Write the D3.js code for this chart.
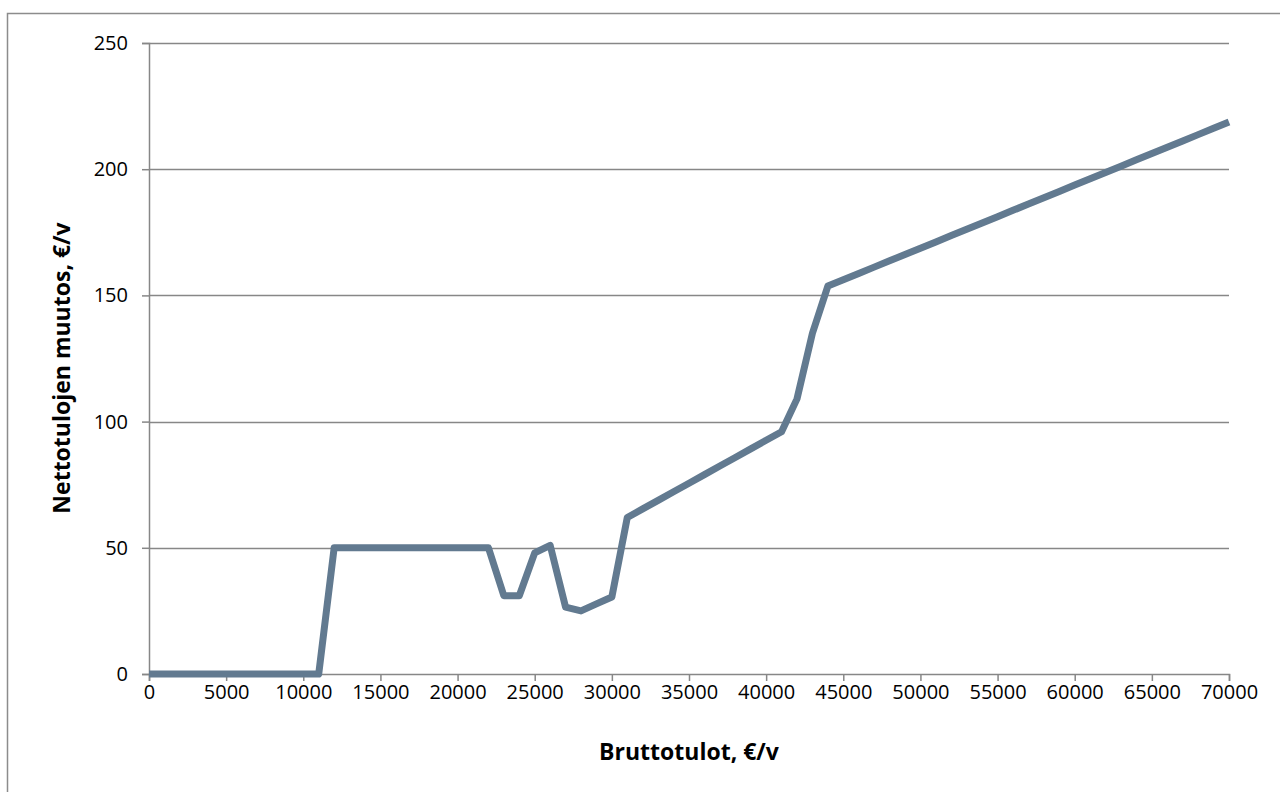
<!DOCTYPE html>
<html><head><meta charset="utf-8">
<script src="https://cdn.jsdelivr.net/npm/d3@7"></script>
<style>body{margin:0;background:#fff}svg{display:block}</style>
</head><body>
<svg id="c" width="1280" height="792"></svg>
<script>
const grossIncome = [0,1000,2000,3000,4000,5000,6000,7000,8000,9000,10000,11000,12000,13000,14000,15000,16000,17000,18000,19000,20000,21000,22000,23000,24000,25000,26000,27000,28000,29000,30000,31000,32000,33000,34000,35000,36000,37000,38000,39000,40000,41000,42000,43000,44000,45000,46000,47000,48000,49000,50000,51000,52000,53000,54000,55000,56000,57000,58000,59000,60000,61000,62000,63000,64000,65000,66000,67000,68000,69000,70000];
const netChange = [0,0,0,0,0,0,0,0,0,0,0,0,50,50,50,50,50,50,50,50,50,50,50,31,31,48,51,26.5,25,27.8,30.5,62,65.4,68.8,72.2,75.6,79,82.4,85.8,89.2,92.6,96,109,135,153.7,156.2,158.7,161.2,163.7,166.2,168.7,171.2,173.7,176.2,178.7,181.2,183.7,186.2,188.7,191.2,193.7,196.2,198.7,201.2,203.7,206.2,208.7,211.2,213.7,216.2,218.7];
const xTicks = [0,5000,10000,15000,20000,25000,30000,35000,40000,45000,50000,55000,60000,65000,70000];
const yTicks = [0,50,100,150,200,250];
const xTitle = "Bruttotulot, €/v";
const yTitle = "Nettotulojen muutos, €/v";

const svg = d3.select("#c");
const font = "'Open Sans', Lato, sans-serif";
const L=149, R=1229, T=43, B=674;
const x = d3.scaleLinear().domain([0,70000]).range([L,R]);
const y = d3.scaleLinear().domain([0,250]).range([B,T]);

svg.append("rect").attr("x",7.5).attr("y",13.5).attr("width",1290).attr("height",800)
  .attr("fill","none").attr("stroke","#8c8c8c").attr("stroke-width",1.5);

// gridlines
svg.append("g").selectAll("line").data(yTicks.filter(d=>d>0)).join("line")
  .attr("x1",L).attr("x2",R).attr("y1",d=>Math.round(y(d))+0.5).attr("y2",d=>Math.round(y(d))+0.5)
  .attr("stroke","#878787").attr("stroke-width",1.5);

// y axis
const ya = svg.append("g").attr("transform",`translate(${L},0)`)
  .call(d3.axisLeft(y).tickValues(yTicks).tickSize(7).tickPadding(14).tickFormat(d3.format("d")));
ya.select(".domain").attr("stroke","#878787").attr("stroke-width",1.5);
ya.selectAll(".tick line").attr("stroke","#878787").attr("stroke-width",1.5);
ya.selectAll("text").attr("font-family",font).attr("font-size",20).attr("fill","#000");

// x axis
const xa = svg.append("g").attr("transform",`translate(0,${B})`)
  .call(d3.axisBottom(x).tickValues(xTicks).tickSize(7).tickPadding(4).tickFormat(d3.format("d")));
xa.select(".domain").attr("stroke","#878787").attr("stroke-width",1.5);
xa.selectAll(".tick line").attr("stroke","#878787").attr("stroke-width",1.5);
xa.selectAll("text").attr("font-family",font).attr("font-size",20).attr("fill","#000");

// line
const data = grossIncome.map((g,i)=>({g, v: netChange[i]}));
svg.append("path").datum(data)
  .attr("fill","none").attr("stroke","#627a90").attr("stroke-width",7)
  .attr("stroke-linejoin","round")
  .attr("d", d3.line().x(d=>x(d.g)).y(d=>y(d.v)));

// titles
svg.append("text").attr("x",689).attr("y",760).attr("text-anchor","middle")
  .attr("font-family",font).attr("font-weight","bold").attr("font-size",23).text(xTitle);
svg.append("text").attr("transform","translate(70,368) rotate(-90)").attr("text-anchor","middle")
  .attr("font-family",font).attr("font-weight","bold").attr("font-size",23).text(yTitle);
</script>
</body></html>
